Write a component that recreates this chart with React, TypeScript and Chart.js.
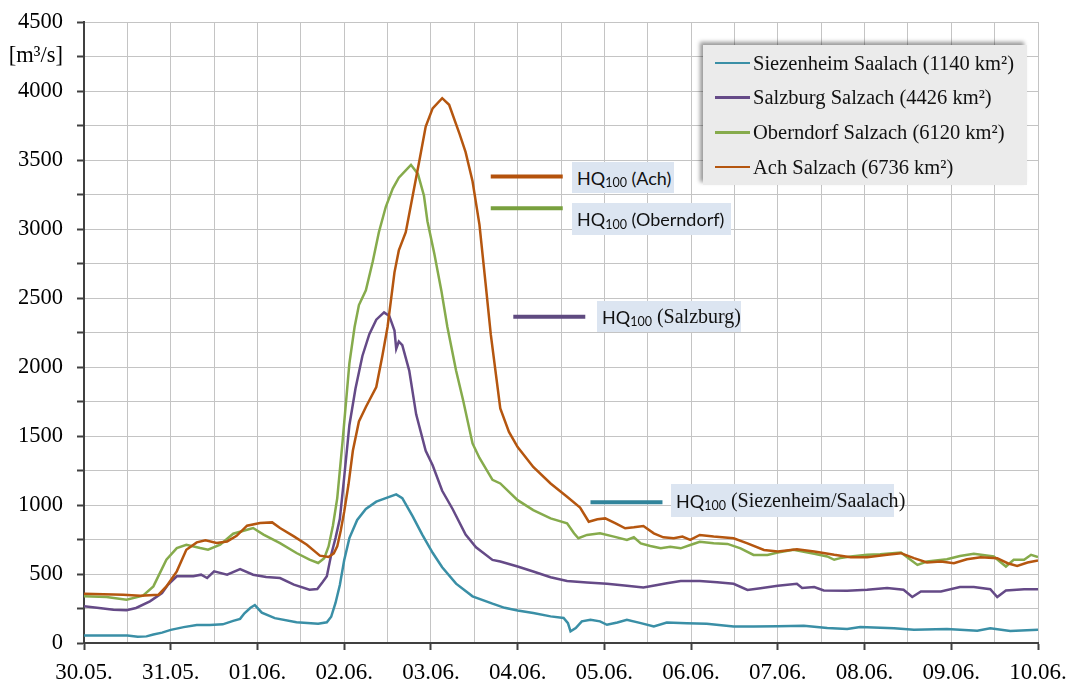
import React, { useEffect, useRef } from "react";
import { Chart, registerables } from "chart.js";

Chart.register(...registerables);

// x = days since 30.05. 00:00, y = discharge [m³/s]
const dayLabels = ["30.05.", "31.05.", "01.06.", "02.06.", "03.06.", "04.06.", "05.06.", "06.06.", "07.06.", "08.06.", "09.06.", "10.06."];
const yUnitLabel = "[m³/s]";

const siezenheim: [number, number][] = [
  [0, 55], [0.3, 55], [0.5, 55], [0.62, 45], [0.72, 48], [0.8, 62], [0.9, 75], [1.0, 95], [1.15, 115], [1.3, 130],
  [1.45, 130], [1.6, 135], [1.72, 160], [1.8, 175], [1.85, 215], [1.92, 255], [1.97, 275], [2.05, 220], [2.2, 180],
  [2.45, 150], [2.7, 140], [2.8, 150], [2.85, 190], [2.9, 290], [2.95, 420], [3.0, 600], [3.06, 760], [3.15, 892],
  [3.25, 971], [3.37, 1024], [3.48, 1050], [3.6, 1077], [3.67, 1050], [3.79, 918], [3.9, 786], [4.02, 654],
  [4.13, 549], [4.29, 430], [4.48, 338], [4.71, 285], [4.85, 255], [5.0, 236], [5.18, 217], [5.38, 193],
  [5.53, 181], [5.58, 144], [5.61, 84], [5.67, 108], [5.74, 157], [5.84, 169], [5.95, 157], [6.03, 132],
  [6.15, 149], [6.26, 169], [6.42, 144], [6.57, 120], [6.72, 149], [6.95, 144], [7.18, 140], [7.49, 120],
  [7.72, 120], [8.0, 122], [8.3, 125], [8.57, 108], [8.8, 101], [8.95, 116], [9.34, 106], [9.57, 96],
  [9.95, 101], [10.3, 89], [10.45, 106], [10.68, 87], [11, 96],
];

const salzburg: [number, number][] = [
  [0, 266], [0.15, 255], [0.34, 241], [0.49, 237], [0.6, 254], [0.76, 302], [0.9, 362], [0.97, 423], [1.07, 483],
  [1.26, 483], [1.35, 495], [1.42, 471], [1.5, 519], [1.65, 495], [1.8, 536], [1.95, 495], [2.1, 478], [2.26, 471],
  [2.42, 423], [2.6, 386], [2.69, 391], [2.75, 440], [2.8, 483], [2.85, 640], [2.9, 760], [2.95, 900], [3.0, 1200],
  [3.06, 1578], [3.13, 1842], [3.21, 2080], [3.29, 2238], [3.37, 2343], [3.46, 2396], [3.52, 2370], [3.58, 2264],
  [3.6, 2132], [3.63, 2185], [3.67, 2159], [3.75, 1974], [3.83, 1657], [3.94, 1393], [4.02, 1288], [4.13, 1103],
  [4.25, 971], [4.4, 786], [4.52, 694], [4.71, 602], [4.8, 590], [5.0, 554], [5.18, 518], [5.38, 477], [5.57, 450],
  [5.8, 438], [6.03, 429], [6.26, 414], [6.45, 402], [6.61, 421], [6.72, 433], [6.88, 450], [7.1, 450], [7.3, 441],
  [7.49, 429], [7.65, 385], [7.8, 397], [8.0, 415], [8.22, 429], [8.28, 398], [8.42, 405], [8.53, 381], [8.8, 378],
  [9.03, 386], [9.26, 398], [9.45, 386], [9.55, 333], [9.65, 374], [9.88, 374], [10.1, 405], [10.26, 405],
  [10.45, 390], [10.53, 333], [10.63, 381], [10.84, 390], [11, 390],
];

const oberndorf: [number, number][] = [
  [0, 338], [0.26, 333], [0.49, 314], [0.68, 343], [0.8, 410], [0.95, 604], [1.07, 688], [1.18, 712], [1.34, 688],
  [1.43, 676], [1.57, 712], [1.72, 792], [1.88, 821], [1.95, 833], [2.07, 785], [2.26, 724], [2.45, 652], [2.6, 604],
  [2.7, 580], [2.77, 615], [2.82, 700], [2.87, 850], [2.92, 1050], [2.98, 1450], [3.06, 2027], [3.12, 2290],
  [3.17, 2449], [3.25, 2555], [3.33, 2766], [3.4, 2977], [3.48, 3161], [3.56, 3293], [3.63, 3372], [3.71, 3425],
  [3.77, 3465], [3.85, 3399], [3.92, 3241], [3.96, 3056], [4.04, 2818], [4.12, 2555], [4.19, 2290], [4.29, 1974],
  [4.37, 1763], [4.48, 1446], [4.56, 1341], [4.71, 1182], [4.8, 1156], [5.0, 1035], [5.18, 963], [5.38, 903],
  [5.57, 867], [5.65, 795], [5.7, 759], [5.8, 783], [5.95, 795], [6.11, 771], [6.26, 747], [6.34, 766], [6.42, 722],
  [6.53, 703], [6.65, 686], [6.76, 698], [6.88, 686], [6.99, 710], [7.1, 734], [7.26, 722], [7.42, 718], [7.57, 686],
  [7.72, 638], [7.88, 638], [8.0, 656], [8.18, 675], [8.42, 646], [8.57, 627], [8.65, 603], [8.72, 615], [8.84, 627],
  [9.03, 639], [9.18, 643], [9.42, 656], [9.53, 603], [9.61, 566], [9.72, 590], [9.95, 607], [10.1, 631],
  [10.26, 646], [10.49, 627], [10.63, 554], [10.72, 603], [10.84, 603], [10.92, 639], [11, 622],
];

const ach: [number, number][] = [
  [0, 357], [0.45, 350], [0.65, 343], [0.86, 350], [0.95, 410], [1.07, 519], [1.18, 676], [1.3, 729], [1.4, 744],
  [1.53, 724], [1.65, 736], [1.76, 777], [1.88, 850], [2.03, 869], [2.17, 874], [2.26, 833], [2.42, 773], [2.57, 712],
  [2.72, 633], [2.82, 623], [2.88, 650], [2.92, 700], [2.96, 813], [3.0, 950], [3.05, 1150], [3.1, 1393], [3.17, 1605],
  [3.25, 1710], [3.37, 1855], [3.44, 2080], [3.5, 2290], [3.58, 2686], [3.63, 2845], [3.71, 2977], [3.79, 3241],
  [3.87, 3505], [3.94, 3742], [4.02, 3874], [4.13, 3948], [4.21, 3900], [4.33, 3689], [4.4, 3557], [4.48, 3346],
  [4.56, 3030], [4.63, 2607], [4.69, 2238], [4.8, 1700], [4.9, 1530], [5.0, 1420], [5.18, 1276], [5.38, 1156],
  [5.57, 1060], [5.72, 982], [5.82, 879], [5.92, 896], [6.01, 903], [6.13, 867], [6.24, 831], [6.34, 838],
  [6.45, 848], [6.57, 795], [6.68, 766], [6.8, 759], [6.9, 771], [6.99, 747], [7.1, 783], [7.26, 771], [7.49, 759],
  [7.65, 722], [7.84, 674], [8.0, 663], [8.22, 680], [8.42, 663], [8.65, 639], [8.84, 622], [9.03, 622], [9.26, 639],
  [9.42, 651], [9.57, 615], [9.72, 583], [9.88, 590], [10.03, 578], [10.18, 607], [10.34, 622], [10.53, 615],
  [10.65, 578], [10.76, 559], [10.88, 583], [11, 598],
];

// HQ100 marks: Ach, Oberndorf, Salzburg, Siezenheim/Saalach
const hqNames = ["Ach", "Oberndorf", "Salzburg", "Siezenheim/Saalach"];
const hqLevels = [3380, 3150, 2365, 1020];
const hqFrom = [4.69, 4.69, 4.95, 5.84];
const hqTo = [5.52, 5.52, 5.78, 6.67];

const seriesNames = [
  "Siezenheim Saalach (1140 km²)",
  "Salzburg Salzach (4426 km²)",
  "Oberndorf Salzach (6120 km²)",
  "Ach Salzach (6736 km²)",
];
const seriesColors = ["#3a8fa6", "#654a87", "#86ab4c", "#b5560f"];
const hqColors = ["#b4520c", "#78a03e", "#5f4a80", "#31849b"];

const SERIF = "'Liberation Serif', 'Times New Roman', serif";
const SANS = "Lato, 'Liberation Sans', sans-serif";

const toXY = (a: [number, number][]) => a.map(([x, y]) => ({ x, y }));

export default function App() {
  const ref = useRef<HTMLCanvasElement | null>(null);

  useEffect(() => {
    if (!ref.current) return;
    const series = [siezenheim, salzburg, oberndorf, ach];
    const datasets: any[] = series.map((s, i) => ({
      label: seriesNames[i],
      data: toXY(s),
      borderColor: seriesColors[i],
      borderWidth: 2.5,
      pointRadius: 0,
      tension: 0,
      fill: false,
      order: 4 - i,
    }));
    hqLevels.forEach((v, i) => {
      datasets.push({
        label: "HQ100 " + hqNames[i],
        data: [
          { x: hqFrom[i], y: v },
          { x: hqTo[i], y: v },
        ],
        borderColor: hqColors[i],
        borderWidth: 4,
        pointRadius: 0,
        fill: false,
        order: 0,
      });
    });

    const chart = new Chart(ref.current, {
      type: "line",
      data: { datasets },
      options: {
        responsive: false,
        animation: false,
        layout: { padding: { left: 0, right: 30, top: 22, bottom: 0 } },
        plugins: { legend: { display: false }, tooltip: { enabled: false } },
        scales: {
          x: {
            type: "linear",
            min: 0,
            max: 11,
            afterFit: (s: any) => {
              s.height = 38;
              s.paddingLeft = 0;
              s.paddingRight = 0;
            },
            border: { display: true, color: "#404040", width: 2 },
            grid: {
              color: "#c4c4c4",
              lineWidth: 1,
              tickLength: 7,
              tickColor: (ctx: any) => (ctx.tick && Number.isInteger(ctx.tick.value) ? "#404040" : "rgba(0,0,0,0)"),
              tickWidth: 2,
            },
            ticks: {
              stepSize: 0.5,
              autoSkip: false,
              maxRotation: 0,
              padding: 9,
              color: "#000",
              font: { family: SERIF, size: 23 },
              callback: (v: any) => (Number.isInteger(v) ? dayLabels[v] : ""),
            },
          },
          y: {
            min: 0,
            max: 4500,
            afterFit: (s: any) => {
              s.width = 84;
              s.paddingTop = 0;
              s.paddingBottom = 0;
            },
            border: { display: true, color: "#404040", width: 2 },
            grid: { color: "#c4c4c4", lineWidth: 1, tickLength: 7, tickColor: "#404040", tickWidth: 2 },
            ticks: {
              stepSize: 250,
              autoSkip: false,
              padding: 14,
              color: "#000",
              font: { family: SERIF, size: 22.5 },
              callback: (v: any) => (v % 500 === 0 ? String(v) : v === 4250 ? yUnitLabel : ""),
            },
          },
        },
      },
    });
    return () => chart.destroy();
  }, []);

  const hqBoxes = [
    { left: 572, top: 162, width: 102, height: 31, serif: false },
    { left: 572, top: 203, width: 159, height: 32, serif: false },
    { left: 597, top: 301, width: 144, height: 31, serif: true },
    { left: 671, top: 484, width: 223, height: 33, serif: true },
  ];

  return (
    <div style={{ position: "absolute", left: 0, top: 0, width: 1068, height: 681, background: "#fff" }}>
      <canvas ref={ref} width={1068} height={681} style={{ display: "block" }} />
      {hqBoxes.map((b, i) => (
        <div
          key={i}
          style={{
            position: "absolute",
            left: b.left,
            top: b.top,
            width: b.width,
            height: b.height,
            background: "#dce5f1",
            display: "flex",
            alignItems: "center",
            paddingLeft: 5,
            boxSizing: "border-box",
            fontFamily: SANS,
            fontSize: 18,
            color: "#111",
            whiteSpace: "nowrap",
          }}
        >
          <span>HQ</span>
          <span style={{ fontSize: 12.5, position: "relative", top: 5 }}>100</span>
          <span style={{ fontFamily: b.serif ? SERIF : SANS, fontSize: b.serif ? 20 : 18 }}>&nbsp;({hqNames[i]})</span>
        </div>
      ))}
      <div
        style={{
          position: "absolute",
          left: 703,
          top: 45,
          width: 324,
          height: 140,
          background: "#ebebeb",
          boxShadow: "-3px -3px 4px rgba(0,0,0,0.4)",
          fontFamily: SERIF,
          fontSize: 20.5,
          color: "#111",
        }}
      >
        {seriesNames.map((n, i) => (
          <div key={i} style={{ position: "absolute", left: 12, top: 6 + i * 34.7, height: 24, display: "flex", alignItems: "center", whiteSpace: "nowrap" }}>
            <span style={{ display: "inline-block", width: 35, height: 2.5, background: seriesColors[i], marginRight: 3 }} />
            <span>{n}</span>
          </div>
        ))}
      </div>
    </div>
  );
}
